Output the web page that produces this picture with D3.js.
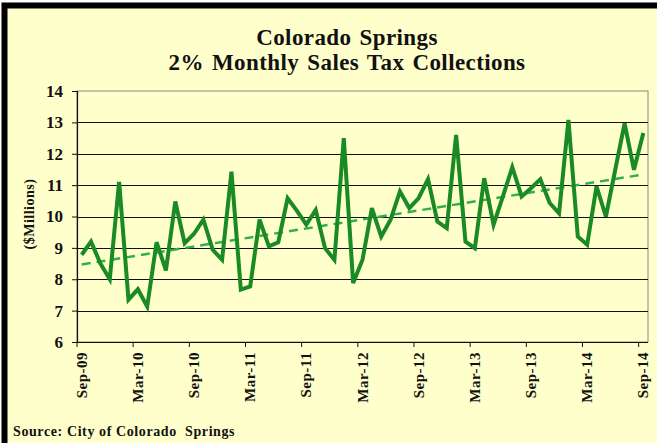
<!DOCTYPE html>
<html>
<head>
<meta charset="utf-8">
<script src="https://cdn.jsdelivr.net/npm/d3@7"></script>
<style>
  body { margin: 0; background: #fff; }
  svg text { font-family: "Liberation Serif", "Times New Roman", serif; font-weight: bold; fill: #111; }
</style>
</head>
<body>
<div id="chart"></div>
<script>
'use strict';

// monthly collections, Sep-09 .. Sep-14 ($ millions)
let values = [
    8.78, 9.2, 8.5, 8.0, 11.1, 7.35, 7.68, 7.13, 9.18, 8.28, 10.48, 9.15,
    9.45, 9.9, 8.94, 8.62, 11.43, 7.67, 7.77, 9.9, 9.05, 9.18, 10.58, 10.18,
    9.74, 10.21, 8.99, 8.62, 12.5, 7.88, 8.62, 10.27, 9.36, 9.9, 10.8, 10.27,
    10.59, 11.19, 9.84, 9.63, 12.6, 9.2, 8.99, 11.22, 9.74, 10.64, 11.57, 10.64,
    10.9, 11.19, 10.43, 10.1, 13.08, 9.36, 9.1, 10.96, 10.0, 11.49, 12.97, 11.49,
    12.66
];
let tickLabels = ['Sep-09', 'Mar-10', 'Sep-10', 'Mar-11', 'Sep-11', 'Mar-12',
    'Sep-12', 'Mar-13', 'Sep-13', 'Mar-14', 'Sep-14'];
let yTicks = [6, 7, 8, 9, 10, 11, 12, 13, 14];
let titleLines = ['Colorado Springs', '2% Monthly Sales Tax Collections'];

let width = 657,
    height = 443;
let plot = { left: 77, right: 648, top: 91, bottom: 342 };

let svg = d3.select('#chart').append('svg')
    .attr('width', width)
    .attr('height', height);

// panel background + heavy frame on top / left
svg.append('rect')
    .attr('x', 5).attr('y', 5)
    .attr('width', width - 5).attr('height', height - 5)
    .attr('fill', '#ffffcc');
svg.append('path')
    .attr('d', 'M4.5,' + height + 'V5.5H' + width)
    .attr('fill', 'none')
    .attr('stroke', '#000')
    .attr('stroke-width', 6);

// scales
let idx = d3.range(values.length);
let x = d3.scaleBand().domain(idx).range([plot.left, plot.right]);
let y = d3.scaleLinear().domain([6, 14]).range([plot.bottom, plot.top]);
let cx = function(i) { return x(i) + x.bandwidth() / 2; };

// plot frame
svg.append('rect')
    .attr('x', plot.left).attr('y', plot.top)
    .attr('width', plot.right - plot.left).attr('height', plot.bottom - plot.top)
    .attr('fill', 'none')
    .attr('stroke', '#8a8a7a')
    .attr('stroke-width', 1);

// grid lines
svg.append('g').selectAll('line')
    .data(yTicks.filter(function(d) { return d > 6 && d < 14; }))
    .enter().append('line')
    .attr('x1', plot.left).attr('x2', plot.right)
    .attr('y1', function(d) { return Math.round(y(d)) + 0.5; })
    .attr('y2', function(d) { return Math.round(y(d)) + 0.5; })
    .attr('stroke', '#111')
    .attr('stroke-width', 1.2);

// y axis
let yAxis = d3.axisLeft(y).tickValues(yTicks).tickSize(5).tickPadding(9);
let gY = svg.append('g')
    .attr('transform', 'translate(' + plot.left + ',0)')
    .call(yAxis);
gY.select('.domain').attr('stroke', '#111').attr('stroke-width', 1.2);
gY.selectAll('.tick line').attr('stroke', '#111');
gY.selectAll('.tick text')
    .style('font-size', '17px')
    .attr('fill', '#111');

// x axis: ticks every 6 months at category boundaries
let tickIdx = idx.filter(function(i) { return i % 6 === 0; });
let gX = svg.append('g')
    .attr('transform', 'translate(0,' + plot.bottom + ')');
gX.append('line')
    .attr('x1', plot.left).attr('x2', plot.right)
    .attr('y1', 0.5).attr('y2', 0.5)
    .attr('stroke', '#111').attr('stroke-width', 1.2);
gX.selectAll('.tk')
    .data(tickIdx)
    .enter().append('line')
    .attr('class', 'tk')
    .attr('x1', function(i) { return x(i); })
    .attr('x2', function(i) { return x(i); })
    .attr('y1', 0).attr('y2', 5)
    .attr('stroke', '#111');
gX.selectAll('.lbl')
    .data(tickIdx)
    .enter().append('text')
    .attr('class', 'lbl')
    .attr('transform', function(i) {
        return 'translate(' + (cx(i) + 5) + ',10) rotate(-90)';
    })
    .attr('text-anchor', 'end')
    .style('font-size', '15px')
    .style('letter-spacing', '0.5px')
    .text(function(i, k) { return tickLabels[k]; });

// trend line (least squares fit)
let mx = d3.mean(idx), my = d3.mean(values);
let slope = d3.sum(idx, function(i) { return (i - mx) * (values[i] - my); }) /
    d3.sum(idx, function(i) { return (i - mx) * (i - mx); });
let icpt = my - slope * mx;
svg.append('line')
    .attr('x1', cx(0)).attr('y1', y(icpt))
    .attr('x2', cx(values.length - 1)).attr('y2', y(icpt + slope * (values.length - 1)))
    .attr('stroke', '#2fb14a')
    .attr('stroke-width', 2.5)
    .attr('stroke-dasharray', '9,6');

// data line
let line = d3.line()
    .x(function(d, i) { return cx(i); })
    .y(function(d) { return y(d); });
svg.append('path')
    .datum(values)
    .attr('d', line)
    .attr('fill', 'none')
    .attr('stroke', '#1a8a24')
    .attr('stroke-width', 4)
    .attr('stroke-linejoin', 'miter');

// titles
svg.selectAll('.title')
    .data(titleLines)
    .enter().append('text')
    .attr('class', 'title')
    .attr('x', 347)
    .attr('y', function(d, i) { return 45 + i * 25; })
    .attr('text-anchor', 'middle')
    .style('font-size', '23px')
    .style('letter-spacing', '0.4px')
    .style('word-spacing', '2px')
    .text(function(d) { return d; });

// y axis title
svg.append('text')
    .attr('transform', 'translate(34,214) rotate(-90)')
    .attr('text-anchor', 'middle')
    .style('font-size', '14px')
    .style('letter-spacing', '0.5px')
    .text('($Millions)');

// source note
svg.append('text')
    .attr('x', 13).attr('y', 436)
    .style('font-size', '14px')
    .style('letter-spacing', '0.6px')
    .style('white-space', 'pre')
    .text('Source: City of Colorado  Springs');
</script>
</body>
</html>
